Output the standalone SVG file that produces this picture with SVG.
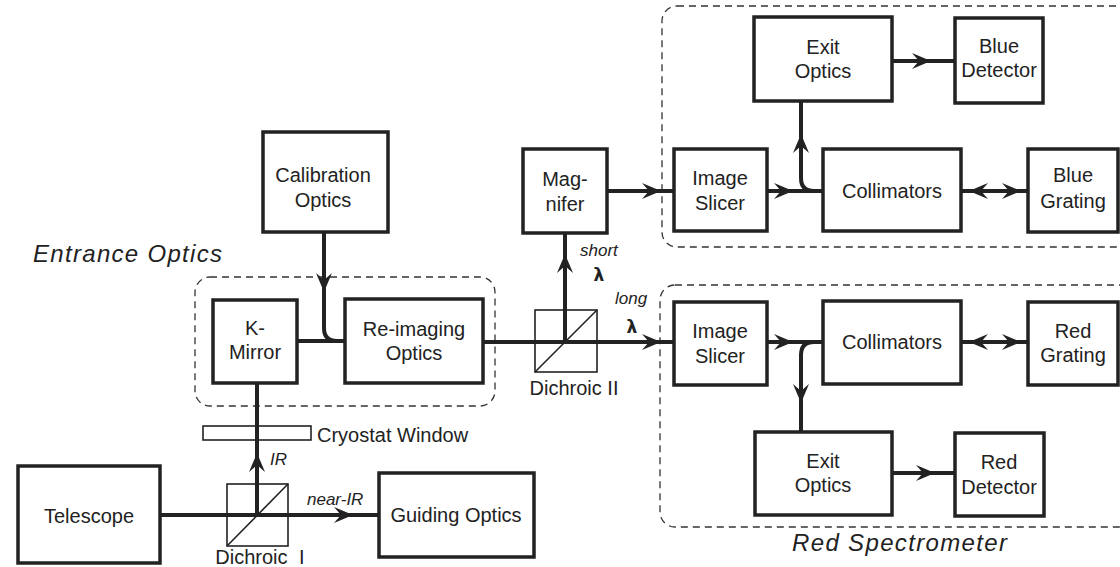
<svg xmlns="http://www.w3.org/2000/svg" width="1120" height="567" viewBox="0 0 1120 567">
<style>
.box{fill:#fff;stroke:#222;stroke-width:3.5}
.t{font-family:"Liberation Sans",Arial,sans-serif;font-size:20px;fill:#222;text-anchor:middle}
.it{font-family:"Liberation Sans",Arial,sans-serif;font-style:italic;fill:#222}
.ln{fill:none;stroke:#222;stroke-width:4}
.thin{fill:none;stroke:#222;stroke-width:1.6}
.dash{fill:none;stroke:#333;stroke-width:1.3;stroke-dasharray:7 5}
.lam{font-family:"DejaVu Sans",sans-serif;font-weight:bold;font-size:17px;fill:#222;text-anchor:middle}
</style>
<defs>
<path id="ah" d="M0,0 L-19,-8 L-12,0 L-19,8 Z" fill="#222"/>
</defs>
<rect width="1120" height="567" fill="#fff"/>

<g id="groups">
<rect class="dash" x="195" y="277" width="300" height="129" rx="15"/>
<rect class="dash" x="662" y="6" width="475" height="241" rx="15"/>
<rect class="dash" x="660" y="285" width="477" height="242" rx="15"/>
<text class="it" x="33" y="262" font-size="24" textLength="189" lengthAdjust="spacing">Entrance Optics</text>
<text class="it" x="792" y="551" font-size="24" textLength="215" lengthAdjust="spacing">Red Spectrometer</text>
</g>

<g id="connectors">
<path class="ln" d="M160 515 H379"/>
<path class="ln" d="M257 515 V383"/>
<path class="ln" d="M297 341 H345"/>
<path class="ln" d="M324 232 V328 Q324 341 337 341"/>
<path class="ln" d="M483 342 H674"/>
<path class="ln" d="M565 342 V233"/>
<path class="ln" d="M607 191 H674"/>
<path class="ln" d="M767 191 H823"/>
<path class="ln" d="M801 101 V178 Q801 191 814 191"/>
<path class="ln" d="M892 61 H955"/>
<path class="ln" d="M961 191 H1028"/>
<path class="ln" d="M767 342 H823"/>
<path class="ln" d="M801 432 V355 Q801 342 814 342"/>
<path class="ln" d="M892 473 H955"/>
<path class="ln" d="M961 342 H1028"/>
<use href="#ah" transform="translate(353,515)"/>
<use href="#ah" transform="translate(257,453) rotate(-90)"/>
<use href="#ah" transform="translate(324,292) rotate(90)"/>
<use href="#ah" transform="translate(565,254) rotate(-90)"/>
<use href="#ah" transform="translate(661,342)"/>
<use href="#ah" transform="translate(661,191)"/>
<use href="#ah" transform="translate(793,191)"/>
<use href="#ah" transform="translate(801,134) rotate(-90)"/>
<use href="#ah" transform="translate(931,61)"/>
<use href="#ah" transform="translate(969,191) rotate(180)"/>
<use href="#ah" transform="translate(1021,191)"/>
<use href="#ah" transform="translate(793,342)"/>
<use href="#ah" transform="translate(801,403) rotate(90)"/>
<use href="#ah" transform="translate(935,473)"/>
<use href="#ah" transform="translate(969,342) rotate(180)"/>
<use href="#ah" transform="translate(1021,342)"/>
<text class="it" x="270" y="465" font-size="17">IR</text>
<text class="it" x="307" y="505" font-size="17">near-IR</text>
<text class="it" x="580" y="256" font-size="17">short</text>
<text class="lam" x="599" y="281">λ</text>
<text class="it" x="615" y="304" font-size="17">long</text>
<text class="lam" x="632" y="333">λ</text>
</g>

<g id="dichroic1">
<rect class="thin" x="227" y="484" width="61" height="62"/>
<path class="thin" d="M227 546 L288 484"/>
<text class="t" x="260" y="564" style="word-spacing:6px">Dichroic I</text>
</g>
<g id="dichroic2">
<rect class="thin" x="535" y="310" width="62" height="62"/>
<path class="thin" d="M535 372 L597 310"/>
<text class="t" x="574" y="395" font-size="19">Dichroic II</text>
</g>
<g id="cryostat">
<rect class="thin" x="203" y="426" width="108" height="14"/>
<text class="t" x="317" y="442" style="text-anchor:start">Cryostat Window</text>
</g>

<g id="telescope"><rect class="box" x="18" y="466" width="142" height="97"/><text class="t" x="89" y="523">Telescope</text></g>
<g id="guiding"><rect class="box" x="379" y="473" width="155" height="84"/><text class="t" x="456" y="522">Guiding Optics</text></g>
<g id="kmirror"><rect class="box" x="213" y="300" width="84" height="83"/><text class="t" x="255" y="335">K-</text><text class="t" x="255" y="359">Mirror</text></g>
<g id="reimaging"><rect class="box" x="345" y="299" width="138" height="84"/><text class="t" x="414" y="336">Re-imaging</text><text class="t" x="414" y="360">Optics</text></g>
<g id="calibration"><rect class="box" x="263" y="132" width="125" height="100"/><text class="t" x="323" y="182">Calibration</text><text class="t" x="323" y="207">Optics</text></g>
<g id="magnifer"><rect class="box" x="523" y="149" width="84" height="84"/><text class="t" x="565" y="186">Mag-</text><text class="t" x="565" y="211">nifer</text></g>

<g id="blue-slicer"><rect class="box" x="674" y="149" width="93" height="82"/><text class="t" x="720" y="185">Image</text><text class="t" x="720" y="210">Slicer</text></g>
<g id="blue-collimators"><rect class="box" x="823" y="149" width="138" height="82"/><text class="t" x="892" y="198">Collimators</text></g>
<g id="blue-grating"><rect class="box" x="1028" y="149" width="90" height="83"/><text class="t" x="1073" y="182">Blue</text><text class="t" x="1073" y="208">Grating</text></g>
<g id="blue-exit"><rect class="box" x="754" y="17" width="138" height="84"/><text class="t" x="823" y="54">Exit</text><text class="t" x="823" y="78">Optics</text></g>
<g id="blue-detector"><rect class="box" x="955" y="18" width="88" height="85"/><text class="t" x="999" y="53">Blue</text><text class="t" x="999" y="77">Detector</text></g>

<g id="red-slicer"><rect class="box" x="674" y="302" width="93" height="83"/><text class="t" x="720" y="338">Image</text><text class="t" x="720" y="363">Slicer</text></g>
<g id="red-collimators"><rect class="box" x="823" y="301" width="138" height="83"/><text class="t" x="892" y="349">Collimators</text></g>
<g id="red-grating"><rect class="box" x="1028" y="302" width="90" height="83"/><text class="t" x="1073" y="338">Red</text><text class="t" x="1073" y="362">Grating</text></g>
<g id="red-exit"><rect class="box" x="755" y="432" width="137" height="83"/><text class="t" x="823" y="468">Exit</text><text class="t" x="823" y="492">Optics</text></g>
<g id="red-detector"><rect class="box" x="955" y="433" width="89" height="83"/><text class="t" x="999" y="469">Red</text><text class="t" x="999" y="494">Detector</text></g>
</svg>
